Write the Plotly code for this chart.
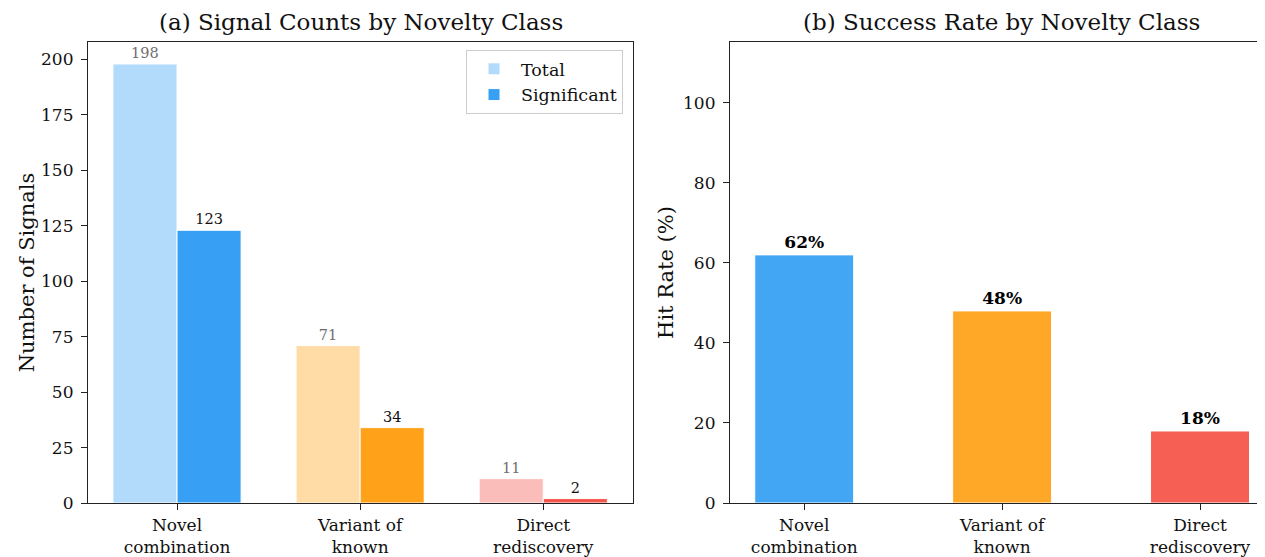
import plotly.graph_objects as go

categories = ["Novel<br>combination", "Variant of<br>known", "Direct<br>rediscovery"]
total_counts = [198, 71, 11]
significant_counts = [123, 34, 2]
hit_rates = [62, 48, 18]

total_colors = ["rgba(33,150,243,0.35)", "rgba(255,152,0,0.35)", "rgba(244,67,54,0.35)"]
sig_colors = ["rgba(33,150,243,0.9)", "rgba(255,152,0,0.9)", "rgba(244,67,54,0.9)"]
rate_colors = ["rgba(33,150,243,0.85)", "rgba(255,152,0,0.85)", "rgba(244,67,54,0.85)"]

FONT = "DejaVu Serif"
OFF = 8  # page body margin
W, H = 1265 - OFF, 557 - OFF
L1, R1 = 88 - OFF, 633 - OFF
L2 = 730 - OFF
T, B = 42 - OFF, 505 - OFF

fig = go.Figure()
idx = list(range(len(categories)))

fig.add_trace(go.Bar(
    x=idx, y=total_counts, width=0.35, offset=-0.35,
    marker=dict(color=total_colors, line=dict(color="white", width=1)),
    name="Total", text=[str(v) for v in total_counts], textposition="outside",
    textfont=dict(family=FONT, size=14.5, color="#6e6e6e"), cliponaxis=False,
    xaxis="x", yaxis="y"))
fig.add_trace(go.Bar(
    x=idx, y=significant_counts, width=0.35, offset=0,
    marker=dict(color=sig_colors, line=dict(color="white", width=1)),
    name="Significant", text=[str(v) for v in significant_counts], textposition="outside",
    textfont=dict(family=FONT, size=14.5, color="#111111"), cliponaxis=False,
    xaxis="x", yaxis="y"))
fig.add_trace(go.Bar(
    x=idx, y=hit_rates, width=0.5,
    marker=dict(color=rate_colors, line=dict(color="white", width=1)),
    showlegend=False, text=[f"<b>{v}%</b>" for v in hit_rates], textposition="outside",
    textfont=dict(family=FONT, size=17, color="#000000"), cliponaxis=False,
    xaxis="x2", yaxis="y2"))

axis_common = dict(showgrid=False, zeroline=False, showline=True, linecolor="#222222", linewidth=1.2,
                   ticks="outside", ticklen=6, tickwidth=1.2, tickcolor="#222222",
                   tickfont=dict(family=FONT, size=17, color="#111111"))

fig.update_layout(
    width=W, height=H,
    margin=dict(l=0, r=0, t=T, b=H - B, pad=0),
    plot_bgcolor="white", paper_bgcolor="white",
    barmode="overlay",
    showlegend=True,
    legend=dict(x=(623 - OFF) / W, y=(B - (50 - OFF)) / (B - T), xanchor="right", yanchor="top",
                bgcolor="white", bordercolor="#cccccc", borderwidth=1, tracegroupgap=4,
                itemwidth=44,
                font=dict(family=FONT, size=17.5, color="#111111")),
    xaxis=dict(domain=[L1 / W, R1 / W], range=[-0.486, 2.49], mirror=True,
               tickvals=idx, ticktext=categories, **axis_common),
    yaxis=dict(domain=[0, 1], range=[0, 207.9], mirror=True, tickvals=[0, 25, 50, 75, 100, 125, 150, 175, 200],
               ticklabelstandoff=4,
               title=dict(text="Number of Signals", font=dict(family=FONT, size=21, color="#111111"), standoff=0),
               **axis_common),
    xaxis2=dict(domain=[L2 / W, 1], range=[-0.375, (1265 - 804) / 198.0], mirror=True,
                tickvals=idx, ticktext=categories, anchor="y2", **axis_common),
    yaxis2=dict(domain=[0, 1], range=[0, 115.2], anchor="x2", tickvals=[0, 20, 40, 60, 80, 100],
                ticklabelstandoff=4,
                title=dict(text="Hit Rate (%)", font=dict(family=FONT, size=21, color="#111111"), standoff=3),
                **axis_common),
    annotations=[
        dict(text="(a) Signal Counts by Novelty Class", x=(360.5 - OFF) / W, y=1, xref="paper", yref="paper",
             yshift=20, xanchor="center", yanchor="middle", showarrow=False,
             font=dict(family=FONT, size=23, color="#111111")),
        dict(text="(b) Success Rate by Novelty Class", x=(1001 - OFF) / W, y=1, xref="paper", yref="paper",
             yshift=20, xanchor="center", yanchor="middle", showarrow=False,
             font=dict(family=FONT, size=23, color="#111111")),
    ],
)

fig.write_html("out.html")
